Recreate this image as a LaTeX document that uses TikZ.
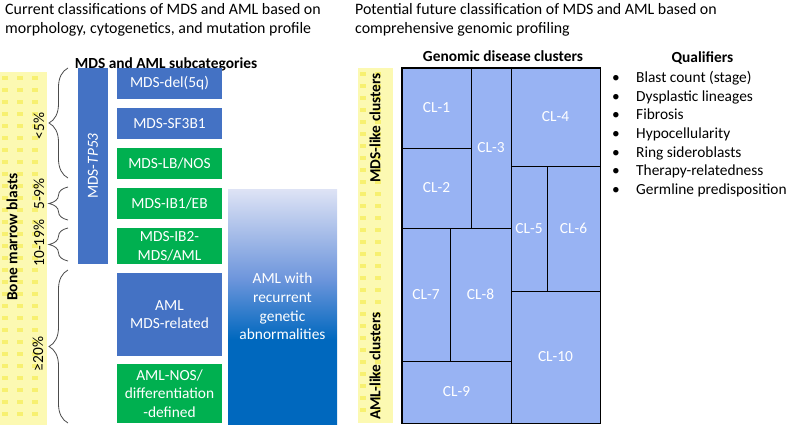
\documentclass[tikz,border=0pt]{standalone}
\usepackage{fontspec}
\setmainfont{Carlito}
\usetikzlibrary{decorations.pathreplacing}
\definecolor{myblue}{RGB}{68,114,196}
\definecolor{mygreen}{RGB}{0,176,80}
\definecolor{mycluster}{RGB}{152,179,243}
\definecolor{myyellow}{RGB}{252,249,178}
\definecolor{myyellowdot}{RGB}{247,240,112}
\definecolor{mydeepblue}{RGB}{0,104,190}
\definecolor{mymidblue}{RGB}{110,150,220}
\definecolor{mypaleblue}{RGB}{222,227,245}
\pgfdeclareverticalshading{recurrent}{100bp}{color(0bp)=(mydeepblue); color(25bp)=(mydeepblue); color(43bp)=(mydeepblue); color(56bp)=(mymidblue); color(75bp)=(mypaleblue); color(100bp)=(mypaleblue)}
\newcommand{\txtfont}{\fontsize{15.4}{18.7}\selectfont}
\newcommand{\hdfont}{\bfseries\fontsize{15.4}{18.7}\selectfont}
\newcommand{\bul}{\makebox[24pt][l]{\textbullet}}
\tikzset{
    common/.style={text=white, align=center, font=\txtfont, inner sep=0pt},
    box/.style={common, minimum width=105},
    mdsbox/.style={box, fill=myblue},
    greenbox/.style={box, fill=mygreen},
    cell/.style={common, draw=black, line width=1pt, fill=mycluster},
    heading/.style={font=\hdfont, inner sep=0pt},
    title/.style={anchor=north west, align=left, font=\fontsize{15.9}{19.5}\selectfont, inner sep=0pt},
    pctlabel/.style={rotate=90, font=\txtfont, inner sep=0pt},
    blastbrace/.style={decorate, decoration={brace, amplitude=19}, draw=black!70, line width=0.8pt}
}
\begin{document}
\begin{tikzpicture}[x=1pt, y=-1pt]
        \useasboundingbox (0,0) rectangle (789,428);

        % left half
        \node[title] (lefttitle) at (5,3) {Current classifications of MDS and AML based on\\morphology, cytogenetics, and mutation profile};
        \node[heading, anchor=base] (subcat) at (166,68) {MDS and AML subcategories};

        \fill[myyellow] (0,72) rectangle (47,425);
        \foreach \y in {76,88,...,418}
            \foreach \x in {2,17,32}
                \fill[myyellowdot] (\x,\y) rectangle ++(6,4);
        \node[heading, rotate=90] (blasts) at (12,237) {Bone marrow blasts};
        \node[pctlabel] (lt5) at (39,126) {<5\%};
        \node[pctlabel] (r59) at (39,194) {5-9\%};
        \node[pctlabel] (r1019) at (39,243) {10-19\%};
        \node[pctlabel] (ge20) at (38,354) {≥20\%};

        \draw[blastbrace] (68,178) -- (68,68);
        \draw[blastbrace] (68,220) -- (68,187);
        \draw[blastbrace] (68,261) -- (68,228);
        \draw[blastbrace] (68,423) -- (68,270);

        % rotated node: width runs along the text
        \node[common, fill=myblue, minimum width=196, minimum height=30, rotate=90] (tp53) at (93,166) {MDS-\textit{TP53}};

        \node[mdsbox, minimum height=31] (del5q) at (169.5,83.5) {MDS-del(5q)};
        \node[mdsbox, minimum height=31] (sf3b1) at (169.5,123.5) {MDS-SF3B1};
        \node[greenbox, minimum height=31] (lbnos) at (169.5,163.5) {MDS-LB/NOS};
        \node[greenbox, minimum height=31] (ib1eb) at (169.5,203.5) {MDS-IB1/EB};
        \node[greenbox, minimum height=36] (ib2) at (169.5,246) {MDS-IB2-\\MDS/AML};
        \node[mdsbox, minimum height=83] (amlmds) at (169.5,314.5) {AML\\MDS-related};
        \node[greenbox, minimum height=59] (amlnos) at (169.5,393.5) {AML-NOS/\\differentiation\\-defined};

        \node[common, shading=recurrent, minimum width=109, minimum height=235] (recurrent) at (282.5,306.5) {AML with\\recurrent\\genetic\\abnormalities};

        % right half
        \node[title] (righttitle) at (355,3) {Potential future classification of MDS and AML based on\\comprehensive genomic profiling};
        \node[heading, anchor=base] (genomic) at (503,61) {Genomic disease clusters};

        \fill[myyellow] (358,68) rectangle (393,423);
        \foreach \y in {72,84,...,414}
            \foreach \x in {360,375}
                \fill[myyellowdot] (\x,\y) rectangle ++(6,4);
        \node[heading, rotate=90] (mdslike) at (375,128) {MDS-like clusters};
        \node[heading, rotate=90] (amllike) at (375,366) {AML-like clusters};

        \node[cell, minimum width=69, minimum height=80] (cl1) at (436.5,108) {CL-1};
        \node[cell, minimum width=69, minimum height=80] (cl2) at (436.5,188) {CL-2};
        \node[cell, minimum width=40, minimum height=160] (cl3) at (491,148) {CL-3};
        \node[cell, minimum width=89, minimum height=98] (cl4) at (555.5,117) {CL-4};
        \node[cell, minimum width=36, minimum height=125] (cl5) at (529,228.5) {CL-5};
        \node[cell, minimum width=53, minimum height=125] (cl6) at (573.5,228.5) {CL-6};
        \node[cell, minimum width=48, minimum height=133] (cl7) at (426,294.5) {CL-7};
        \node[cell, minimum width=61, minimum height=133] (cl8) at (480.5,294.5) {CL-8};
        \node[cell, minimum width=109, minimum height=62] (cl9) at (456.5,392) {CL-9};
        \node[cell, minimum width=89, minimum height=132] (cl10) at (555.5,357) {CL-10};
        \draw[line width=1.6pt] (cl1.north west) rectangle (cl10.south east);

        \node[heading, anchor=base] (qualifiers) at (702.5,63) {Qualifiers};
        \node[anchor=north west, align=left, font=\txtfont, inner sep=0pt] (qlist) at (612,71) {\bul Blast count (stage)\\\bul Dysplastic lineages\\\bul Fibrosis\\\bul Hypocellularity\\\bul Ring sideroblasts\\\bul Therapy-relatedness\\\bul Germline predisposition};
    \end{tikzpicture}
\end{document}
